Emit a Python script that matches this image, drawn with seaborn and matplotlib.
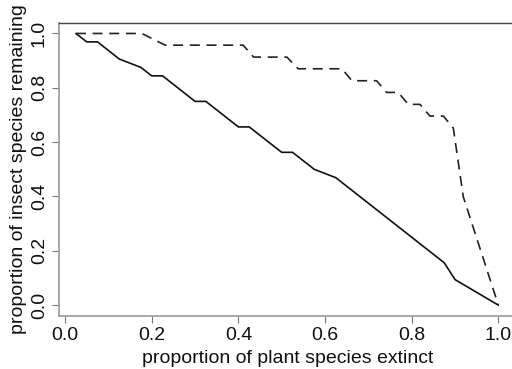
import matplotlib
matplotlib.use("Agg")
import matplotlib.pyplot as plt
import seaborn as sns
import pandas as pd

# Solid line: all plants removed in some order
solid_x = [0.025, 0.05, 0.075, 0.125, 0.175, 0.2, 0.225, 0.3, 0.325, 0.4, 0.425,
           0.5, 0.525, 0.575, 0.625, 0.875, 0.9, 1.0]
solid_y = [1.0, 0.969, 0.969, 0.906, 0.875, 0.844, 0.844, 0.75, 0.75, 0.656, 0.656,
           0.5625, 0.5625, 0.5, 0.469, 0.156, 0.094, 0.0]

# Dashed line
dash_x = [0.025, 0.177, 0.231, 0.411, 0.435, 0.512, 0.538, 0.639, 0.662, 0.719,
          0.742, 0.769, 0.792, 0.819, 0.842, 0.873, 0.896, 0.919, 1.0]
dash_y = [1.0, 1.0, 0.957, 0.957, 0.913, 0.913, 0.870, 0.870, 0.826, 0.826,
          0.783, 0.783, 0.739, 0.739, 0.696, 0.696, 0.652, 0.399, 0.0]

x_ticks = [0.0, 0.2, 0.4, 0.6, 0.8, 1.0]
y_ticks = [0.0, 0.2, 0.4, 0.6, 0.8, 1.0]

sns.set_style("white")
plt.rcParams["font.family"] = ["Liberation Sans", "DejaVu Sans"]

fig = plt.figure(figsize=(5.12, 3.69), dpi=100)
W, H = 512, 369
left, right, top, bottom = 59, 517, 22.6, 316
ax = fig.add_axes([left / W, (H - bottom) / H, (right - left) / W, (bottom - top) / H])

df_s = pd.DataFrame({"x": solid_x, "y": solid_y})
df_d = pd.DataFrame({"x": dash_x, "y": dash_y})
sns.lineplot(data=df_s, x="x", y="y", ax=ax, color="#111111", lw=1.2,
             estimator=None, sort=False)
sns.lineplot(data=df_d, x="x", y="y", ax=ax, color="#222222", lw=1.2,
             estimator=None, sort=False, dashes=False, linestyle=(0, (6, 4)))

ax.set_xlim(-0.014, 1.043)
ax.set_ylim(-0.04, 1.04)
ax.set_xticks(x_ticks)
ax.set_yticks(y_ticks)
ax.set_xticklabels([f"{v:.1f}" for v in x_ticks])
ax.set_yticklabels([f"{v:.1f}" for v in y_ticks], rotation=90, va="center")
ax.tick_params(axis="both", direction="out", length=5, width=0.8, color="#777777",
               labelsize=14, labelcolor="#111111", pad=3)
ax.tick_params(axis="x", bottom=True)
ax.tick_params(axis="y", left=True)
for side in ["left", "bottom"]:
    ax.spines[side].set_color("#999999")
    ax.spines[side].set_linewidth(1.2)
ax.spines["top"].set_color("#444444")
ax.spines["top"].set_linewidth(1.0)
ax.spines["right"].set_visible(False)

ax.set_xlabel("proportion of plant species extinct", fontsize=14, color="#111111", labelpad=4.5)
ax.set_ylabel("proportion of insect species remaining", fontsize=14, color="#111111", labelpad=3)
ax.grid(False)

fig.savefig("out.png", dpi=100)
